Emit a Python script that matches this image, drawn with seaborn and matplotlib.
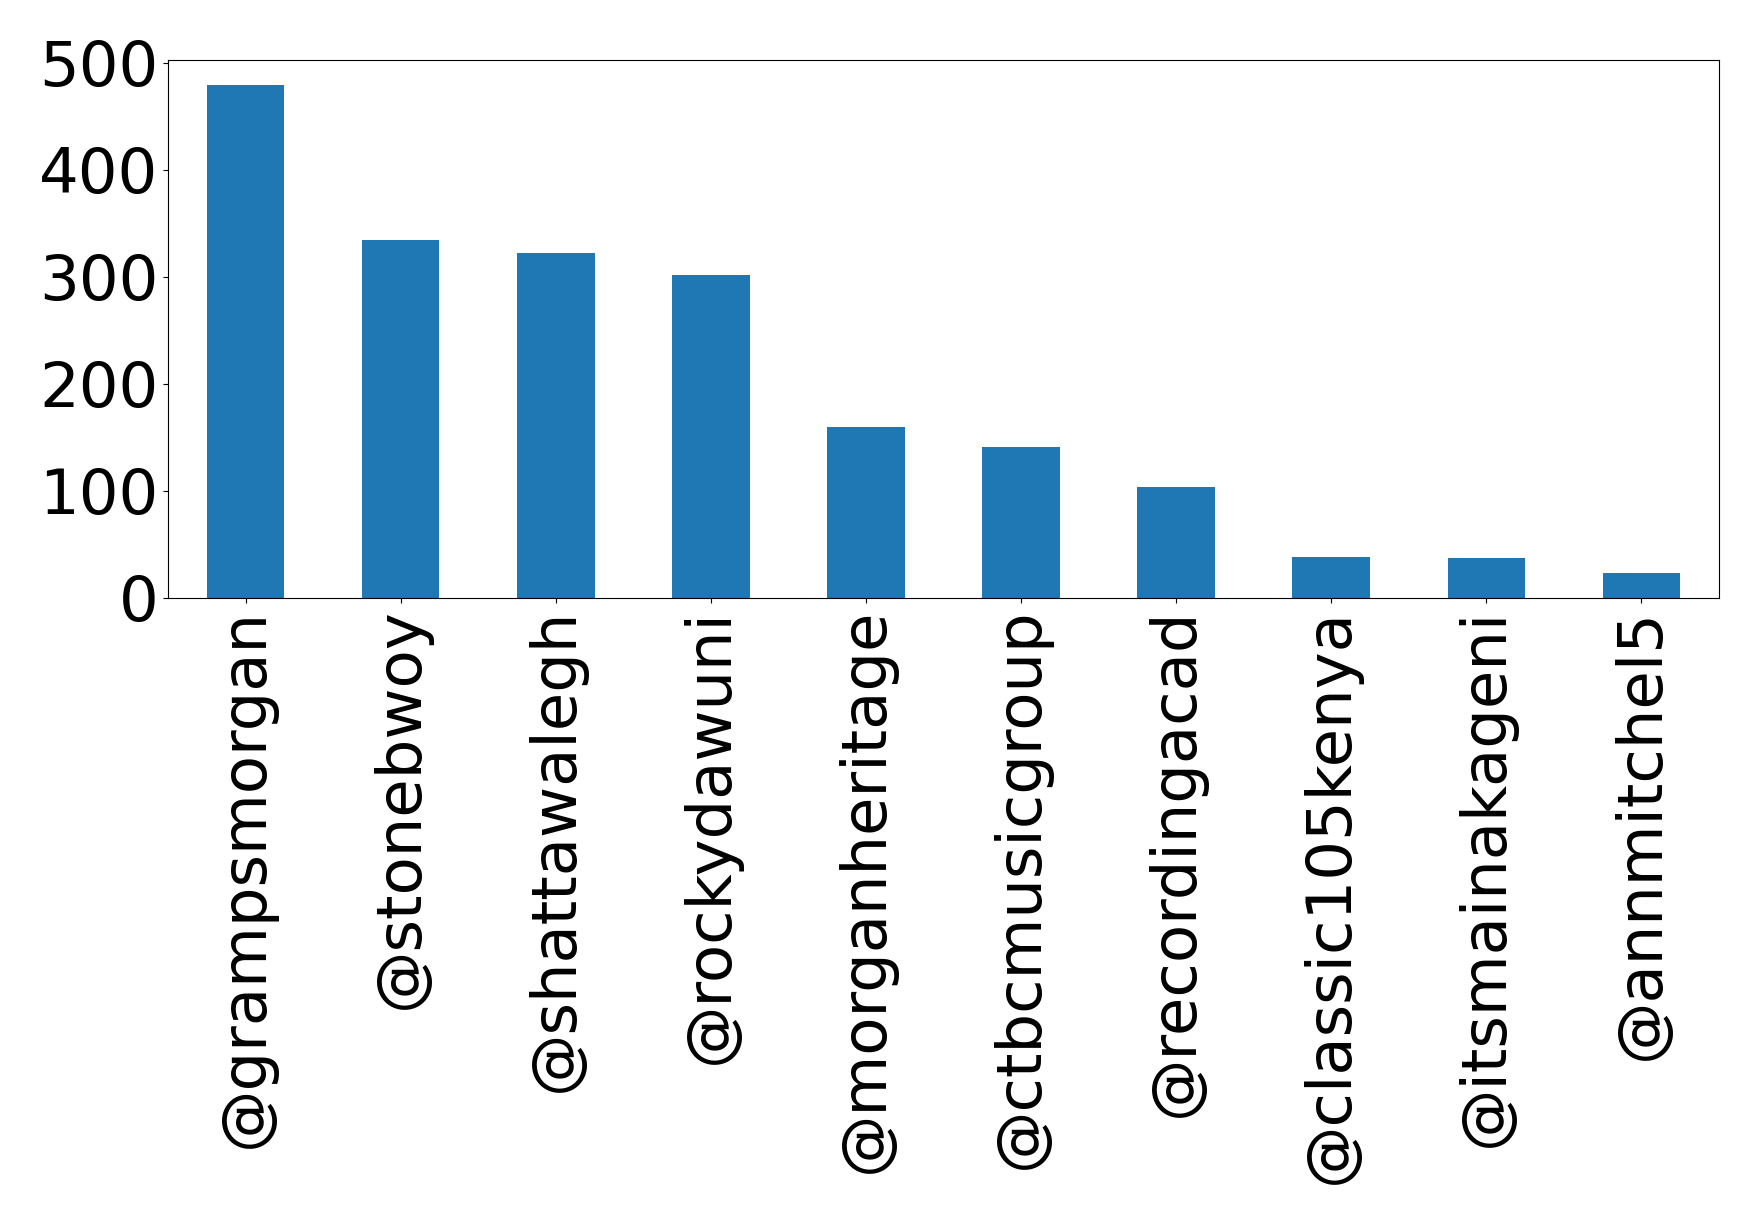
import matplotlib
matplotlib.use("Agg")
import matplotlib.pyplot as plt
import seaborn as sns
import pandas as pd

handles = ["@grampsmorgan", "@stonebwoy", "@shattawalegh", "@rockydawuni",
           "@morganheritage", "@ctbcmusicgroup", "@recordingacad",
           "@classic105kenya", "@itsmainakageni", "@annmitchel5"]
counts = [479, 334, 322, 302, 160, 141, 104, 38, 37, 23]
yticks = [0, 100, 200, 300, 400, 500]

df = pd.DataFrame({"handle": handles, "count": counts})

fig = plt.figure(figsize=(17.59, 12.24), dpi=100)
ax = fig.add_axes([168 / 1759, 1 - 598 / 1224, (1719 - 168) / 1759, (598 - 60) / 1224])
sns.barplot(data=df, x="handle", y="count", ax=ax, color="#1f77b4",
            saturation=1, width=0.5)
ax.set_xlim(-0.5, len(handles) - 0.5)
ax.set_ylim(0, 502.5)
ax.set_yticks(yticks)
ax.set_xlabel("")
ax.set_ylabel("")
ax.tick_params(axis="both", labelsize=45)
plt.setp(ax.get_xticklabels(), rotation=90)
fig.savefig("out.png", dpi=100)
